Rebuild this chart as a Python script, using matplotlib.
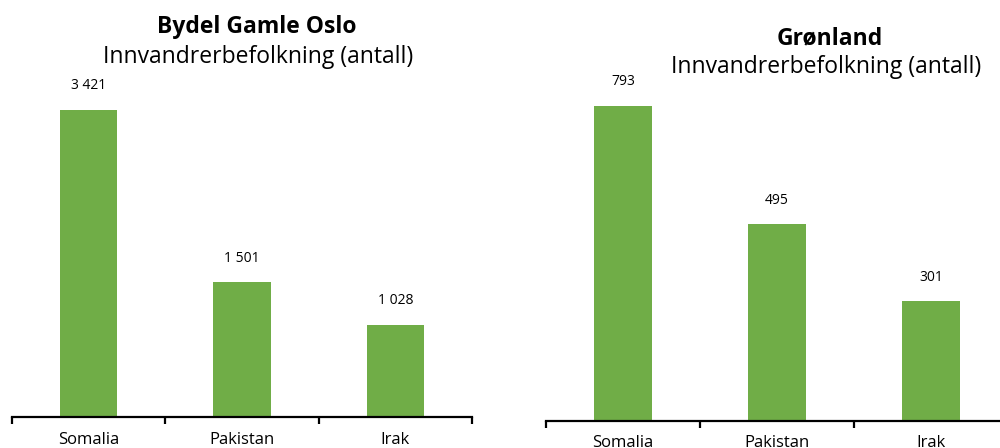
import matplotlib.pyplot as plt
import numpy as np

plt.rcParams['font.family'] = ['Open Sans', 'DejaVu Sans']

countries = ['Somalia', 'Pakistan', 'Irak']
oslo_vals = [3421, 1501, 1028]
gronland_vals = [793, 495, 301]
GREEN = '#70AD47'

W, H = 1000, 448
fig = plt.figure(figsize=(W/100, H/100), dpi=100)


def fmt(v):
    return f'{v:,}'.replace(',', ' ')


def panel(x0, x1, ybot, ytop, vals, ymax, tickpad):
    ax = fig.add_axes([x0/W, (H-ybot)/H, (x1-x0)/W, (ybot-ytop)/H])
    x = np.arange(len(vals))
    ax.bar(x, vals, width=0.375, color=GREEN, zorder=2)
    ax.set_xlim(-0.5, len(vals)-0.5)
    ax.set_ylim(0, ymax)
    for s in ['top', 'right', 'left']:
        ax.spines[s].set_visible(False)
    ax.spines['bottom'].set_linewidth(1.6)
    ax.spines['bottom'].set_color('black')
    ax.set_yticks([])
    ax.set_xticks(np.arange(len(vals)+1)-0.5)
    ax.set_xticklabels([])
    ax.tick_params(axis='x', which='major', length=5, width=1.6, direction='out')
    ax.set_xticks(x, minor=True)
    ax.set_xticklabels(countries, minor=True, fontsize=12)
    ax.tick_params(axis='x', which='minor', length=0, pad=tickpad)
    for xi, v in zip(x, vals):
        ax.annotate(fmt(v), (xi, v), xytext=(0, 12), textcoords='offset points',
                    ha='center', va='bottom', fontsize=10)
    return ax


panel(12, 472, 417, 100, oslo_vals, 3534, 11)
panel(546, 1008, 421, 95, gronland_vals, 821, 10)

fig.text(257/W, 1-27/H, 'Bydel Gamle Oslo', ha='center', va='center', fontsize=16.5, fontweight='bold')
fig.text(258/W, 1-57/H, 'Innvandrerbefolkning (antall)', ha='center', va='center', fontsize=16.5)
fig.text(830/W, 1-38/H, 'Grønland', ha='center', va='center', fontsize=16.5, fontweight='bold')
fig.text(826/W, 1-67/H, 'Innvandrerbefolkning (antall)', ha='center', va='center', fontsize=16.5)

fig.savefig('out.png', dpi=100)
